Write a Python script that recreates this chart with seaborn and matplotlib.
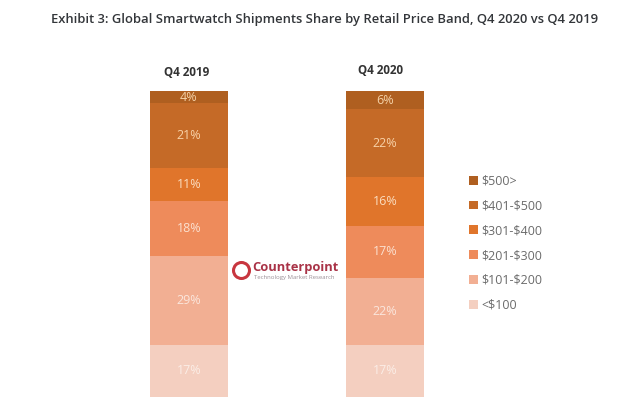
import matplotlib
matplotlib.use("Agg")
import pandas as pd
import seaborn as sns
import matplotlib.pyplot as plt

quarters = ["Q4 2019", "Q4 2020"]
bands = ["<$100", "$101-$200", "$201-$300", "$301-$400", "$401-$500", "$500>"]
share_2019 = [17, 29, 18, 11, 21, 4]
share_2020 = [17, 22, 17, 16, 22, 6]
band_colors = ["#F4CFC0", "#F2AF93", "#EE8B5B", "#E0752B", "#C56A27", "#AF5F20"]
label_colors = ["#FBEDE6", "#FBE6DC", "#FBE0CF", "#FBDDBF", "#F8D2A8", "#F5D3A9"]

W, H = 641, 403


def fx(px):
    return px / W


def fy(py):
    return 1 - py / H


sns.set_theme(style="white")
plt.rcParams["font.family"] = ["Open Sans", "DejaVu Sans"]
plt.rcParams["text.parse_math"] = False  # dollar signs in the band names

df = pd.DataFrame({"quarter": quarters * len(bands),
                   "band": [b for b in bands for _ in quarters],
                   "share": [v for pair in zip(share_2019, share_2020) for v in pair]})

fig = plt.figure(figsize=(W / 100, H / 100), dpi=100, facecolor="white")
# bars centred at x=189 and 385 px, running from y=397 up to y=91 px
ax = fig.add_axes([fx(91), fy(397), 392 / W, 306 / H])

bottom = [0, 0]
for band, color, txt_color in zip(bands, band_colors, label_colors):
    part = df[df["band"] == band]
    sns.barplot(data=part, x="quarter", y="share", order=quarters, color=color, width=0.398,
                bottom=bottom, label=band, ax=ax, errorbar=None, saturation=1, linewidth=0,
                legend=False)
    vals = part["share"].tolist()
    for i, v in enumerate(vals):
        ax.text(i, bottom[i] + v / 2, f"{v}%", ha="center", va="center", fontsize=9,
                color=txt_color)
    bottom = [b + v for b, v in zip(bottom, vals)]

handles, labels = ax.get_legend_handles_labels()
if ax.get_legend() is not None:
    ax.get_legend().remove()

ax.set_xlim(-0.5, 1.5)
ax.set_ylim(0, 100)
ax.set_xlabel("")
ax.set_ylabel("")
ax.set_yticks([])
ax.set_xticks([])
sns.despine(ax=ax, left=True, bottom=True)

fig.text(fx(324.5), fy(19), "Exhibit 3: Global Smartwatch Shipments Share by Retail Price Band, Q4 2020 vs Q4 2019",
         ha="center", va="center", fontsize=9.4, color="#33363a", fontweight="semibold")
fig.text(fx(187), fy(72), quarters[0], ha="center", va="center", fontsize=8.4, color="#333333", fontweight="bold")
fig.text(fx(381), fy(71), quarters[1], ha="center", va="center", fontsize=8.4, color="#333333", fontweight="bold")

fig.legend(handles[::-1], labels[::-1], loc="upper left", bbox_to_anchor=(fx(469), fy(174.5)),
           frameon=False, fontsize=9, labelcolor="#6b6b6b", handlelength=0.72, handleheight=0.72,
           handletextpad=0.3, labelspacing=0.95, borderaxespad=0, borderpad=0)

# logo
logo_red = "#A93347"
fig.add_artist(plt.Line2D([fx(241)], [fy(270)], marker="o", ms=11.5, mfc="none", mec="#C8363F", mew=2.2,
                          transform=fig.transFigure))
fig.text(fx(252), fy(267.5), "Counterpoint", ha="left", va="center", fontsize=9.3, color=logo_red,
         fontweight="bold")
fig.text(fx(254), fy(278), "Technology Market Research", ha="left", va="center", fontsize=4.3, color="#9a8f96")

fig.savefig("out.png", dpi=100)
